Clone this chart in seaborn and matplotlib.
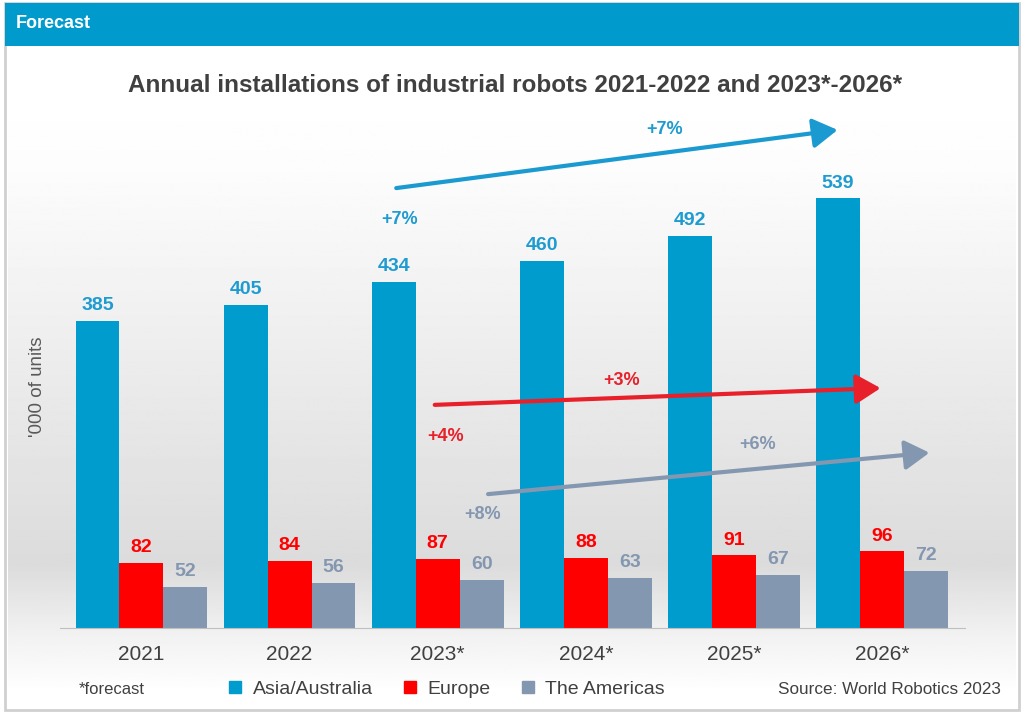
import numpy as np
import pandas as pd
import matplotlib.pyplot as plt
from matplotlib.patches import Rectangle
from matplotlib.lines import Line2D
import seaborn as sns

# Data ('000 of units)
years = ["2021", "2022", "2023*", "2024*", "2025*", "2026*"]
regions = ["Asia/Australia", "Europe", "The Americas"]
asia = [385, 405, 434, 460, 492, 539]
europe = [82, 84, 87, 88, 91, 96]
americas = [52, 56, 60, 63, 67, 72]

# Growth annotations: (label, x, y) and arrows (x0, y0, x1, y1)
growth_labels = [("+7%", 3.53, 625, "#1E9BD0"), ("+7%", 1.74, 512, "#1E9BD0"),
                 ("+3%", 3.24, 311, "#E8202A"), ("+4%", 2.05, 240, "#E8202A"),
                 ("+6%", 4.16, 230, "#8497B0"), ("+8%", 2.30, 143, "#8497B0")]
arrows = [(1.72, 552, 4.70, 625, "#1A9AD0"),
          (1.98, 280, 4.99, 301, "#E8202A"),
          (2.34, 168, 5.32, 220, "#8497B0")]

colors = ["#009CCD", "#FF0000", "#8497B0"]
label_colors = ["#1E9BD0", "#FF0000", "#8497B0"]

df = pd.DataFrame({
    "year": years * 3,
    "region": np.repeat(regions, len(years)),
    "units": asia + europe + americas,
})

sns.set_style("white")
plt.rcParams["font.family"] = ["Liberation Sans", "DejaVu Sans"]

fig = plt.figure(figsize=(10.24, 7.17), dpi=100)

# background panel with gradient
bg = fig.add_axes([0, 0, 1, 1], zorder=-2)
bg.set_xlim(0, 1024)
bg.set_ylim(717, 0)
bg.axis("off")
grad_y = np.linspace(0, 717, 300)
shade = np.interp(grad_y, [50, 130, 560, 640, 700], [1.0, 0.99, 0.86, 0.95, 1.0])
bg.imshow(np.tile(shade[:, None], (1, 2)), cmap="gray", vmin=0, vmax=1,
          extent=[8, 1016, 709, 47], aspect="auto", zorder=0)
bg.add_patch(Rectangle((5, 3), 1014, 707, fill=False, ec="#D0D0D0", lw=2, zorder=1))
bg.add_patch(Rectangle((5, 3), 1014, 43, fc="#009ACD", ec="none", zorder=2))
bg.text(16, 24, "Forecast", color="white", fontsize=13, fontweight="bold",
        va="center", ha="left", zorder=3)

ax = fig.add_axes([60 / 1024, 1 - 628 / 717, 905 / 1024, 518 / 717])
ax.patch.set_alpha(0)
sns.barplot(data=df, x="year", y="units", hue="region", palette=colors,
            width=0.89, saturation=1, linewidth=0, ax=ax, legend=False)
ax.set_xlim(-0.55, 5.56)
ax.set_ylim(0, 650)

for cont, col in zip(ax.containers, label_colors):
    ax.bar_label(cont, padding=5, color=col, fontsize=14, fontweight="bold")

for x0, y0, x1, y1, col in arrows:
    ax.annotate("", xy=(x1, y1), xytext=(x0, y0),
                arrowprops=dict(arrowstyle="-|>,head_length=0.5,head_width=0.3",
                                lw=3, color=col, mutation_scale=30,
                                shrinkA=0, shrinkB=0))
for txt, x, y, col in growth_labels:
    ax.text(x, y, txt, color=col, fontsize=13, fontweight="bold",
            ha="center", va="center")

ax.set_xlabel("")
ax.set_ylabel("'000 of units", fontsize=13.5, color="#595959")
ax.yaxis.set_label_coords(-0.016, 0.465)
ax.set_yticks([])
ax.tick_params(axis="x", length=0, labelsize=15, labelcolor="#404040", pad=12)
for s in ["top", "right", "left"]:
    ax.spines[s].set_visible(False)
ax.spines["bottom"].set_color("#BFBFBF")

fig.text(0.503, 1 - 86 / 717, "Annual installations of industrial robots 2021-2022 and 2023*-2026*",
         ha="center", va="center", fontsize=17.5, fontweight="bold", color="#404040")

handles = [Line2D([], [], marker="s", ls="", markersize=8.5, color=c) for c in colors]
fig.legend(handles, regions, loc="center", bbox_to_anchor=(0.43, 1 - 689 / 717),
           ncol=3, frameon=False, fontsize=14, handletextpad=-0.1, columnspacing=0.9,
           labelcolor="#404040")
fig.text(79 / 1024, 1 - 689 / 717, "*forecast", fontsize=12, color="#404040", va="center")
fig.text(1001 / 1024, 1 - 689 / 717, "Source: World Robotics 2023", fontsize=12.3,
         color="#404040", va="center", ha="right")

fig.savefig("out.png", dpi=100)
